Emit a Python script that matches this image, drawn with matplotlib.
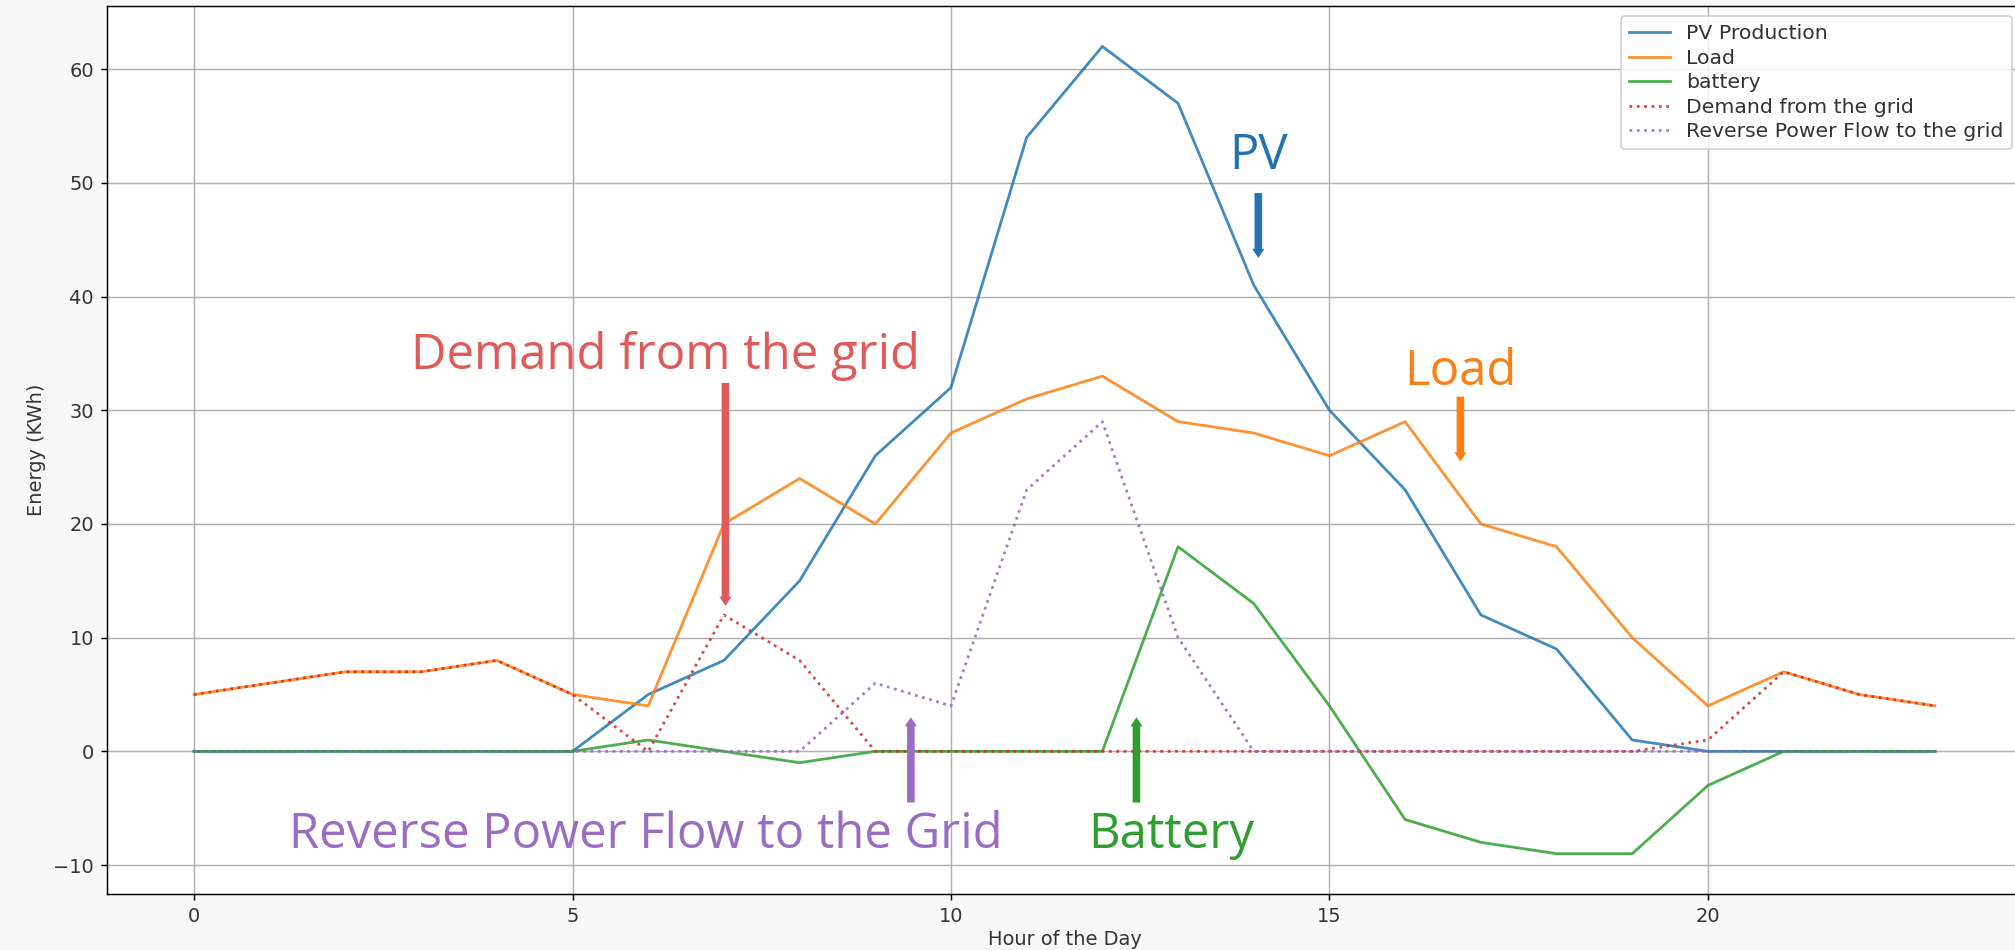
import matplotlib
matplotlib.use('Agg')
import matplotlib.pyplot as plt

# hourly values (KWh)
hours = list(range(24))
pv = [0, 0, 0, 0, 0, 0, 5, 8, 15, 26, 32, 54, 62, 57, 41, 30, 23, 12, 9, 1, 0, 0, 0, 0]
load = [5, 6, 7, 7, 8, 5, 4, 20, 24, 20, 28, 31, 33, 29, 28, 26, 29, 20, 18, 10, 4, 7, 5, 4]
battery = [0, 0, 0, 0, 0, 0, 1, 0, -1, 0, 0, 0, 0, 18, 13, 4, -6, -8, -9, -9, -3, 0, 0, 0]
grid_demand = [5, 6, 7, 7, 8, 5, 0, 12, 8, 0, 0, 0, 0, 0, 0, 0, 0, 0, 0, 0, 1, 7, 5, 4]
reverse_flow = [0, 0, 0, 0, 0, 0, 0, 0, 0, 6, 4, 23, 29, 10, 0, 0, 0, 0, 0, 0, 0, 0, 0, 0]

# callouts: text, colour, text pos (x, baseline y), arrow (x, tail y, tip y)
notes = [
    ('Demand from the grid', '#e05a5a', (6.23, 33.6), (7.02, 32.4, 12.8)),
    ('PV', '#2373b3', (14.07, 51.2), (14.06, 49.1, 43.4)),
    ('Load', '#fd7f14', (16.73, 32.2), (16.73, 31.2, 25.5)),
    ('Reverse Power Flow to the Grid', '#9a6cc4', (5.97, -8.5), (9.47, -4.5, 3.0)),
    ('Battery', '#2e9e2e', (12.91, -8.5), (12.45, -4.5, 3.0)),
]

plt.rcParams['font.size'] = 10.5
plt.rcParams['text.color'] = '#333333'
plt.rcParams['axes.labelcolor'] = '#333333'
plt.rcParams['xtick.labelcolor'] = '#333333'
plt.rcParams['ytick.labelcolor'] = '#333333'

dpi = 133
fig = plt.figure(figsize=(2015 / dpi, 950 / dpi), dpi=dpi)
fig.patch.set_facecolor('#f8f8f8')
ax = fig.add_axes([0.0531, 0.0589, 0.9504, 0.9347])

ax.plot(hours, pv, alpha=0.85, label='PV Production')
ax.plot(hours, load, alpha=0.85, label='Load')
ax.plot(hours, battery, alpha=0.85, label='battery')
ax.plot(hours, grid_demand, ':', color='tab:red', alpha=0.85, label='Demand from the grid')
ax.plot(hours, reverse_flow, ':', color='tab:purple', alpha=0.85,
        label='Reverse Power Flow to the grid')

ax.set_xlabel('Hour of the Day', labelpad=2)
ax.set_ylabel('Energy (KWh)')
ax.grid(True)
ax.legend(loc='upper right', fontsize=11, labelspacing=0.27)

for txt, c, (tx, ty), (axx, y0, y1) in notes:
    ax.text(tx, ty, txt, color=c, fontsize=26.5, ha='center', va='baseline',
            family=['Open Sans', 'DejaVu Sans'], zorder=6)
    ax.arrow(axx, y0, 0, y1 - y0, width=0.1, head_width=0.16, head_length=0.8,
             length_includes_head=True, lw=0, color=c, zorder=5)

fig.savefig('out.png', dpi=dpi, facecolor=fig.get_facecolor())
